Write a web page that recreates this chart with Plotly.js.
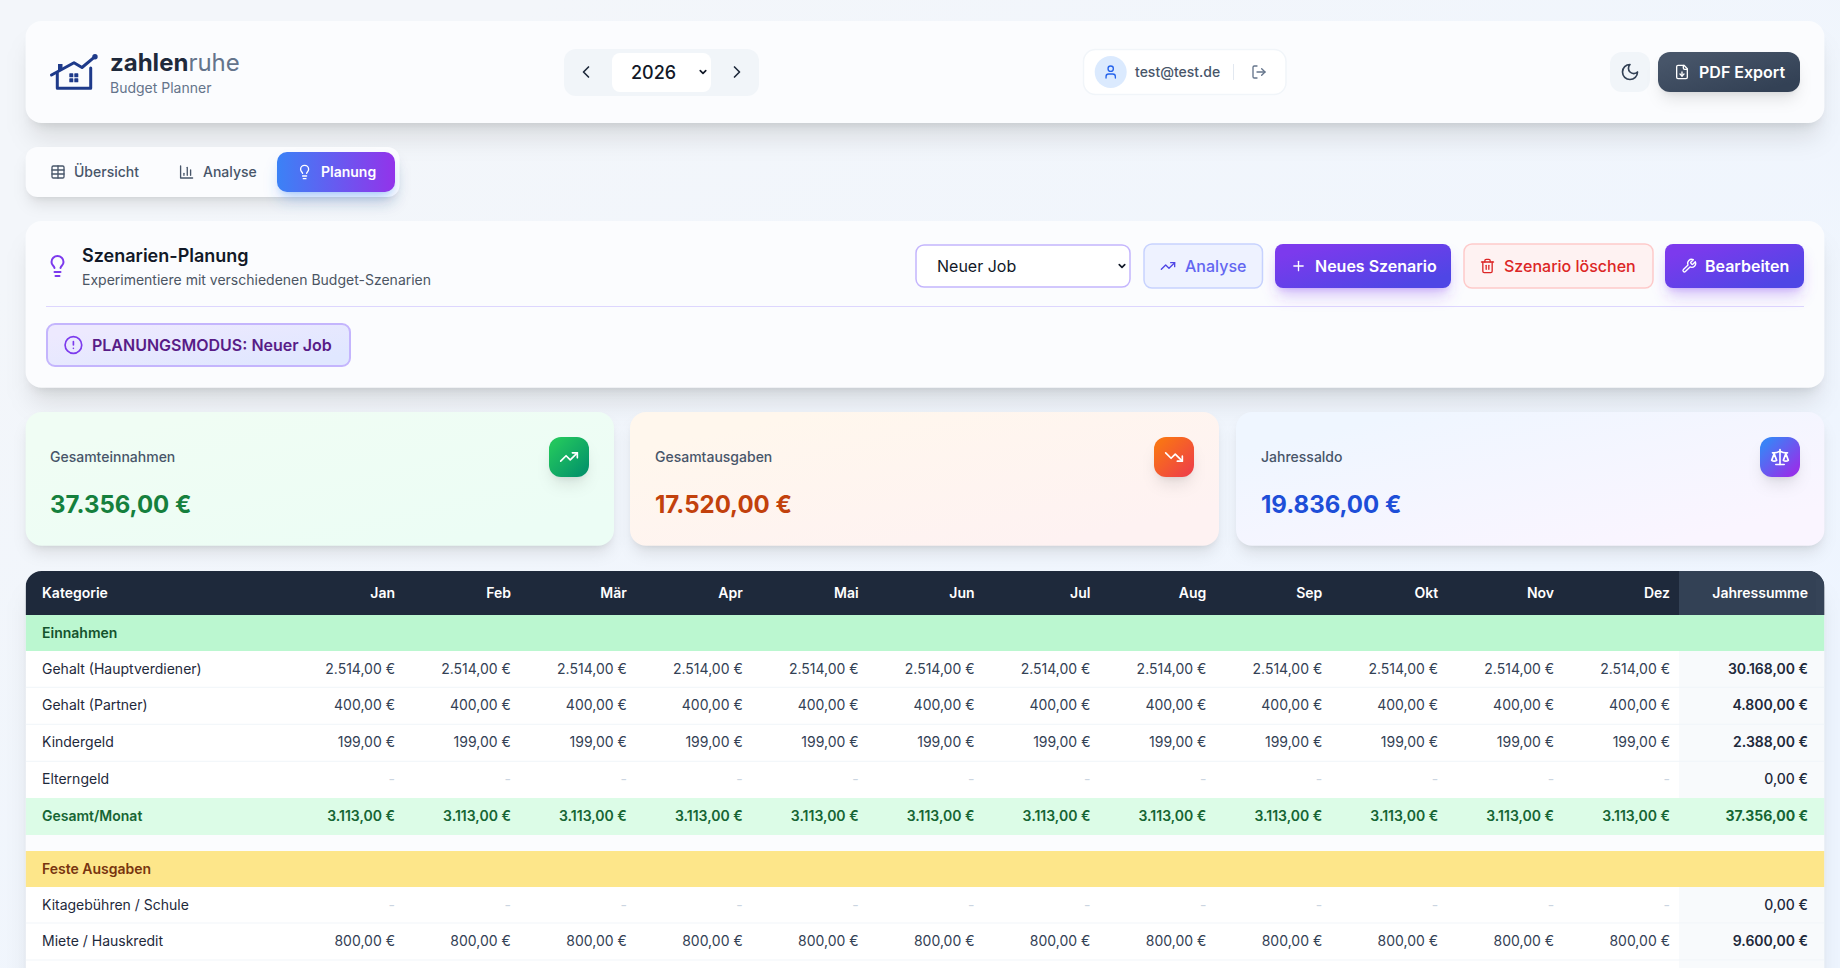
<!DOCTYPE html>
<html lang="de"><head><meta charset="utf-8">
<script src="https://cdn.plot.ly/plotly-3.0.1.min.js"></script>
<style>html,body{margin:0;padding:0;width:1840px;height:968px;overflow:hidden;background:#f3f6fb}#chart{width:1840px;height:968px}</style>
</head><body><div id="chart"></div>
<script>
// ---------- DATA ----------
const months = ['Jan','Feb','Mär','Apr','Mai','Jun','Jul','Aug','Sep','Okt','Nov','Dez'];
const gehaltHaupt = [2514,2514,2514,2514,2514,2514,2514,2514,2514,2514,2514,2514];
const gehaltPartner = [400,400,400,400,400,400,400,400,400,400,400,400];
const kindergeld = [199,199,199,199,199,199,199,199,199,199,199,199];
const elterngeld = [0,0,0,0,0,0,0,0,0,0,0,0];
const gesamtMonat = [3113,3113,3113,3113,3113,3113,3113,3113,3113,3113,3113,3113];
const kitagebuehren = [0,0,0,0,0,0,0,0,0,0,0,0];
const miete = [800,800,800,800,800,800,800,800,800,800,800,800];
const einnahmenLabels = ['Gehalt (Hauptverdiener)','Gehalt (Partner)','Kindergeld','Elterngeld','Gesamt/Monat'];
const einnahmenSummen = [30168,4800,2388,0,37356];
const ausgabenLabels = ['Kitagebühren / Schule','Miete / Hauskredit'];
const ausgabenSummen = [0,9600];

// ---------- HELPERS ----------
const W=1840,H=968;
const FONT='Inter, sans-serif';
const fx=p=>p/W, fy=p=>1-p/H;
const money=v=>{const [a,b]=v.toFixed(2).split('.');return a.replace(/\B(?=(\d{3})+$)/g,'.')+','+b+' €';};
const cell=v=>v===0?'-':money(v);

const icons={
 chevL:'<path d="m15 18-6-6 6-6"/>',chevR:'<path d="m9 18 6-6-6-6"/>',chevD:'<path d="m6 9 6 6 6-6"/>',
 user:'<path d="M19 21v-2a4 4 0 0 0-4-4H9a4 4 0 0 0-4 4v2"/><circle cx="12" cy="7" r="4"/>',
 logout:'<path d="M9 21H5a2 2 0 0 1-2-2V5a2 2 0 0 1 2-2h4"/><path d="M16 17l5-5-5-5"/><path d="M21 12H9"/>',
 moon:'<path d="M12 3a6 6 0 0 0 9 9 9 9 0 1 1-9-9Z"/>',
 file:'<path d="M15 2H6a2 2 0 0 0-2 2v16a2 2 0 0 0 2 2h12a2 2 0 0 0 2-2V7Z"/><path d="M14 2v4a2 2 0 0 0 2 2h4"/><path d="M12 18v-6"/><path d="m9 15 3 3 3-3"/>',
 table:'<path d="M12 3v18"/><rect x="3" y="3" width="18" height="18" rx="2"/><path d="M3 9h18"/><path d="M3 15h18"/>',
 bars:'<path d="M3 3v18h18"/><path d="M18 17V9"/><path d="M13 17V5"/><path d="M8 17v-3"/>',
 bulb:'<path d="M15 14c.2-1 .7-1.7 1.5-2.5 1-.9 1.5-2.2 1.5-3.5A6 6 0 0 0 6 8c0 1 .2 2.2 1.5 3.5.7.7 1.3 1.5 1.5 2.5"/><path d="M9 18h6"/><path d="M10 22h4"/>',
 up:'<path d="M22 7l-8.5 8.5-5-5L2 17"/><path d="M16 7h6v6"/>',
 down:'<path d="M22 17l-8.5-8.5-5 5L2 7"/><path d="M16 17h6v-6"/>',
 scale:'<path d="m16 16 3-8 3 8c-.87.65-1.92 1-3 1s-2.13-.35-3-1Z"/><path d="m2 16 3-8 3 8c-.87.65-1.92 1-3 1s-2.13-.35-3-1Z"/><path d="M7 21h10"/><path d="M12 3v18"/><path d="M3 7h2c2 0 5-1 7-2 2 1 5 2 7 2h2"/>',
 plus:'<path d="M5 12h14"/><path d="M12 5v14"/>',
 trash:'<path d="M3 6h18"/><path d="M19 6v14c0 1-1 2-2 2H7c-1 0-2-1-2-2V6"/><path d="M8 6V4c0-1 1-2 2-2h4c1 0 2 1 2 2v2"/><path d="M10 11v6"/><path d="M14 11v6"/>',
 wrench:'<path d="M14.7 6.3a1 1 0 0 0 0 1.4l1.6 1.6a1 1 0 0 0 1.4 0l3.77-3.77a6 6 0 0 1-7.94 7.94l-6.91 6.91a2.12 2.12 0 0 1-3-3l6.91-6.91a6 6 0 0 1 7.94-7.94l-3.76 3.76z"/>',
 alert:'<circle cx="12" cy="12" r="10"/><path d="M12 8v4"/><path d="M12 16h.01"/>'
};
const icon=(n,cx,cy,s,c,sw=2)=>`<g transform="translate(${cx-s/2} ${cy-s/2}) scale(${s/24})" fill="none" stroke="${c}" stroke-width="${sw}" stroke-linecap="round" stroke-linejoin="round">${icons[n]}</g>`;
const rr=(x0,y0,x1,y1,r,fill,extra='')=>`<rect x="${x0}" y="${y0}" width="${x1-x0}" height="${y1-y0}" rx="${r}" fill="${fill}" ${extra}/>`;
let defs='',gid=0;
const grad=(c1,c2,ang=135)=>{const id='g'+(gid++);const a=(ang-90)*Math.PI/180;const dx=Math.cos(a)/2,dy=Math.sin(a)/2;
 defs+=`<linearGradient id="${id}" x1="${.5-dx}" y1="${.5-dy}" x2="${.5+dx}" y2="${.5+dy}"><stop offset="0" stop-color="${c1}"/><stop offset="1" stop-color="${c2}"/></linearGradient>`;return `url(#${id})`;};
const blurs={};
const blur=s=>{if(!blurs[s]){blurs[s]='b'+Object.keys(blurs).length;defs+=`<filter id="${blurs[s]}" filterUnits="userSpaceOnUse" x="0" y="0" width="${W}" height="${H}"><feGaussianBlur stdDeviation="${s}"/></filter>`;}return blurs[s];};
const sh=(x0,y0,x1,y1,r,dy,b,sp,col,op)=>`<rect x="${x0-sp}" y="${y0-sp+dy}" width="${x1-x0+2*sp}" height="${y1-y0+2*sp}" rx="${Math.max(0,r+sp)}" fill="${col}" fill-opacity="${op}" filter="url(#${blur(b/2)})"/>`;
const shXL=(a,b,c,d,r)=>sh(a,b,c,d,r,20,25,-5,'#000',.1)+sh(a,b,c,d,r,8,10,-6,'#000',.1);
const shLG=(a,b,c,d,r,col='#000',op=.1)=>sh(a,b,c,d,r,10,15,-3,col,op)+sh(a,b,c,d,r,4,6,-4,col,op);

const L=25.6,R=1824.4,CARD='#fbfcfe';
let s='';
// page
s+=rr(0,0,W,H,0,grad('#f3f6fa','#eef5ff',135));
// header card
s+=shXL(L,21,R,123,16)+rr(L,21,R,123,16,CARD);
// logo
s+=`<g fill="none" stroke="#1e3a8a" stroke-width="3" stroke-linecap="round" stroke-linejoin="round"><path d="M57.3 73V88.3H90.7V68"/><path d="M51.5 75L74 62.7L82 67.5L95 56.7"/></g><rect x="58" y="64" width="4.5" height="6" fill="#1e3a8a"/><circle cx="95" cy="56.7" r="2.7" fill="#1e3a8a"/><rect x="69.3" y="73.3" width="4" height="4" rx=".6" fill="#1e3a8a"/><rect x="74.3" y="73.3" width="4" height="4" rx=".6" fill="#1e3a8a"/><rect x="69.3" y="78.3" width="4" height="4" rx=".6" fill="#1e3a8a"/><rect x="74.3" y="78.3" width="4" height="4" rx=".6" fill="#1e3a8a"/>`;
// year control
s+=rr(564,49,759,96,12,'#f1f5f9')+rr(612,53,711,92,8,'#ffffff');
s+=icon('chevL',586,72,20,'#1e293b')+icon('chevR',737,72,20,'#1e293b')+icon('chevD',703,72,11,'#111827',3.6);
// user pill
s+=rr(1083.5,49.5,1286,94.5,12,'#ffffff','stroke="#f1f5f9" stroke-width="1.5"');
s+=`<circle cx="1110.7" cy="72" r="16" fill="#dbeafe"/>`+icon('user',1110.7,72,16,'#2563eb');
s+=`<path d="M1233.5 64V80" stroke="#e2e8f0"/>`+icon('logout',1259,72,16,'#64748b');
// moon + pdf
s+=rr(1610,52,1650,92,12,'#f1f5f9')+icon('moon',1630,72,20,'#334155');
s+=shLG(1658,52,1800,92,12)+rr(1658,52,1800,92,12,grad('#475569','#334155'))+icon('file',1682,72,16,'#ffffff');
// tabs
s+=shLG(L,147,399.6,197,12)+rr(L,147,399.6,197,12,CARD);
s+=icon('table',58,172,16,'#475569')+icon('bars',186.6,172,16,'#475569');
s+=shLG(277,152,395,192,10,'#3b82f6',.3)+rr(277,152,395,192,10,grad('#3b82f6','#9333ea',90))+icon('bulb',304.6,172,16,'#ffffff');
// scenario card
s+=shXL(L,221,R,387.7,16)+rr(L,221,R,387.7,16,CARD);
s+=icon('bulb',57.5,266,24,'#7c3aed');
s+=`<path d="M46 306.5H1804" stroke="#ddd6fe" stroke-width="1"/>`;
s+=rr(47,324,350,366,8,grad('#ede9fe','#e0e7ff'),'stroke="#c4b5fd" stroke-width="2"')+icon('alert',73.4,345,20,'#7c3aed');
s+=rr(916,245,1130,287,8,'#ffffff','stroke="#c4b5fd" stroke-width="1.5"')+icon('chevD',1122,266,11,'#111827',3.6);
s+=rr(1144,244,1262.5,288,8,'#eef2ff','stroke="#c7d2fe" stroke-width="1.5"')+icon('up',1168,266,16,'#4f46e5');
s+=shLG(1275,244,1451,288,8,'#7c3aed',.3)+rr(1275,244,1451,288,8,grad('#7c3aed','#4f46e5'))+icon('plus',1298.5,266,16,'#ffffff');
s+=rr(1464,244,1653,288,8,'#fef2f2','stroke="#fecaca" stroke-width="1.5"')+icon('trash',1487.5,266,16,'#dc2626');
s+=shLG(1665,244,1804,288,8,'#7c3aed',.3)+rr(1665,244,1804,288,8,grad('#7c3aed','#4f46e5'))+icon('wrench',1689,266,16,'#ffffff');
// KPI cards
[[L,614,'#f0fdf4','#ecfdf5',549,'#22c55e','#059669','up'],[630,1219,'#fff7ed','#fef2f2',1154,'#f97316','#ef4444','down'],[1236,R,'#eff6ff','#faf5ff',1760,'#3b82f6','#9333ea','scale']].forEach(k=>{
 s+=shLG(k[0],412,k[1],545.7,16)+rr(k[0],412,k[1],545.7,16,grad(k[2],k[3]));
 s+=shLG(k[4],437,k[4]+40,477,12)+rr(k[4],437,k[4]+40,477,12,grad(k[5],k[6]))+icon(k[7],k[4]+20,457,20,'#ffffff');
});
// table body
s+=shXL(L,571,R,1000,16);
defs+=`<clipPath id="tc"><rect x="${L}" y="571" width="${R-L}" height="500" rx="16"/></clipPath>`;
s+='<g clip-path="url(#tc)">';
s+=rr(L,571,R,H,0,'#ffffff');
s+=rr(L,571,R,615,0,'#1e293b')+rr(1679,571,R,615,0,'#334155');
s+=rr(L,615,R,651,0,'#bbf7d0');
s+=rr(1679,651,R,798,0,'#f8fafc');
[687.3,724.3,761.3].forEach(y=>{s+=`<path d="M${L} ${y}H${R}" stroke="#f1f5f9" stroke-width="1"/>`;});
s+=rr(L,798,R,835,0,'#dcfce7');
s+=rr(L,835,R,851,0,CARD);
s+=rr(L,851,R,887,0,'#fde68a');
s+=rr(1679,887,R,H,0,'#f8fafc');
[923,960].forEach(y=>{s+=`<path d="M${L} ${y}H${R}" stroke="#f1f5f9" stroke-width="1"/>`;});
s+='</g>';
const decor=`<svg xmlns="http://www.w3.org/2000/svg" width="${W}" height="${H}" viewBox="0 0 ${W} ${H}"><defs>${defs}</defs>${s}</svg>`;

// ---------- TEXT ----------
const T=(text,x,y,size,color,weight=400,anchor='left')=>({text,x:fx(x-1.1),y:fy(y),xref:'paper',yref:'paper',xanchor:anchor,yanchor:'middle',showarrow:false,borderpad:0,font:{family:FONT,size,color,weight}});
const annotations=[
 T('zahlen<span style="color:#64748b;font-weight:400">ruhe</span>',110,62.5,24,'#1e293b',700),
 T('Budget Planner',110,87.5,14,'#64748b'),
 T('2026',631.5,72.5,18,'#111827',500),
 T('test@test.de',1135.4,72,14,'#475569',500),
 T('PDF Export',1699,72.5,16,'#ffffff',600),
 T('Übersicht',74,172,14,'#475569',500),
 T('Analyse',203,172,14,'#475569',500),
 T('Planung',321,172,14,'#ffffff',600),
 T('Szenarien-Planung',82,255.5,18,'#111827',600),
 T('Experimentiere mit verschiedenen Budget-Szenarien',82,280,14,'#4b5563'),
 T('PLANUNGSMODUS: Neuer Job',92,345,16,'#581c87',600),
 T('Neuer Job',937,266,16,'#111827',400),
 T('Analyse',1185,266,16,'#6366f1',500),
 T('Neues Szenario',1315,266,16,'#ffffff',600),
 T('Szenario löschen',1504.5,266,16,'#dc2626',500),
 T('Bearbeiten',1705,266,16,'#ffffff',600),
 T('Gesamteinnahmen',50,457,14,'#475569',500),
 T('37.356,00 €',50,504,24,'#15803d',700),
 T('Gesamtausgaben',655,457,14,'#475569',500),
 T('17.520,00 €',655,504,24,'#c2410c',700),
 T('Jahressaldo',1261,457,14,'#475569',500),
 T('19.836,00 €',1261,504,24,'#1d4ed8',700)
];

// ---------- TABLE ----------
const colW=[253.1,...months.map(()=>115.9),138];
const TX=[34,1816];
const tbl=(y0,y1,hv,hh,hFont,cv,cFont)=>({type:'table',domain:{x:[fx(TX[0]),fx(TX[1])],y:[fy(y1),fy(y0)]},columnwidth:colW,
 header:{values:hv,height:hh,align:['left',...months.map(()=>'right'),'right'],font:hFont,fill:{color:'rgba(0,0,0,0)'},line:{width:0,color:'rgba(0,0,0,0)'}},
 cells:{values:cv,height:36.85,align:['left',...months.map(()=>'right'),'right'],font:cFont,fill:{color:'rgba(0,0,0,0)'},line:{width:0,color:'rgba(0,0,0,0)'}}});
const toCols=(labels,rows,sums)=>[labels,...months.map((m,i)=>rows.map(r=>cell(r[i]))),sums.map(money)];
const blank=months.map(()=>'');
const einnColor=[einnahmenLabels.map((l,i)=>i===4?'#166534':'#1e293b'),
 ...months.map(()=>['#334155','#334155','#334155','#cbd5e1','#166534']),
 ['#1e293b','#1e293b','#1e293b','#1e293b','#166534']];
const einnWeight=[[400,400,400,400,600],...months.map(()=>[400,400,400,400,600]),[600,600,600,500,700]];
const ausgColor=[['#1e293b','#1e293b'],...months.map(()=>['#cbd5e1','#334155']),['#1e293b','#1e293b']];
const ausgWeight=[[400,400],...months.map(()=>[400,400]),[500,600]];

const traces=[
 tbl(579,625,['Kategorie',...months,'Jahressumme'],44,{family:FONT,size:14,color:'#ffffff',weight:600},[],{family:FONT,size:14}),
 tbl(619,842,['Einnahmen',...blank,''],36,{family:FONT,size:14,color:'#14532d',weight:600},
   toCols(einnahmenLabels,[gehaltHaupt,gehaltPartner,kindergeld,elterngeld,gesamtMonat],einnahmenSummen),
   {family:FONT,size:14,color:einnColor,weight:einnWeight}),
 tbl(855,966,['Feste Ausgaben',...blank,''],36,{family:FONT,size:14,color:'#78350f',weight:600},
   toCols(ausgabenLabels,[kitagebuehren,miete],ausgabenSummen),
   {family:FONT,size:14,color:ausgColor,weight:ausgWeight})
];

Plotly.newPlot('chart',traces,{
 width:W,height:H,margin:{l:0,r:0,t:0,b:0,pad:0},paper_bgcolor:'#f3f6fb',plot_bgcolor:'rgba(0,0,0,0)',showlegend:false,
 font:{family:FONT},
 images:[{source:'data:image/svg+xml;charset=utf-8,'+encodeURIComponent(decor),xref:'paper',yref:'paper',x:0,y:1,sizex:1,sizey:1,xanchor:'left',yanchor:'top',sizing:'stretch',layer:'below'}],
 annotations
},{displayModeBar:false,responsive:false});
</script></body></html>
